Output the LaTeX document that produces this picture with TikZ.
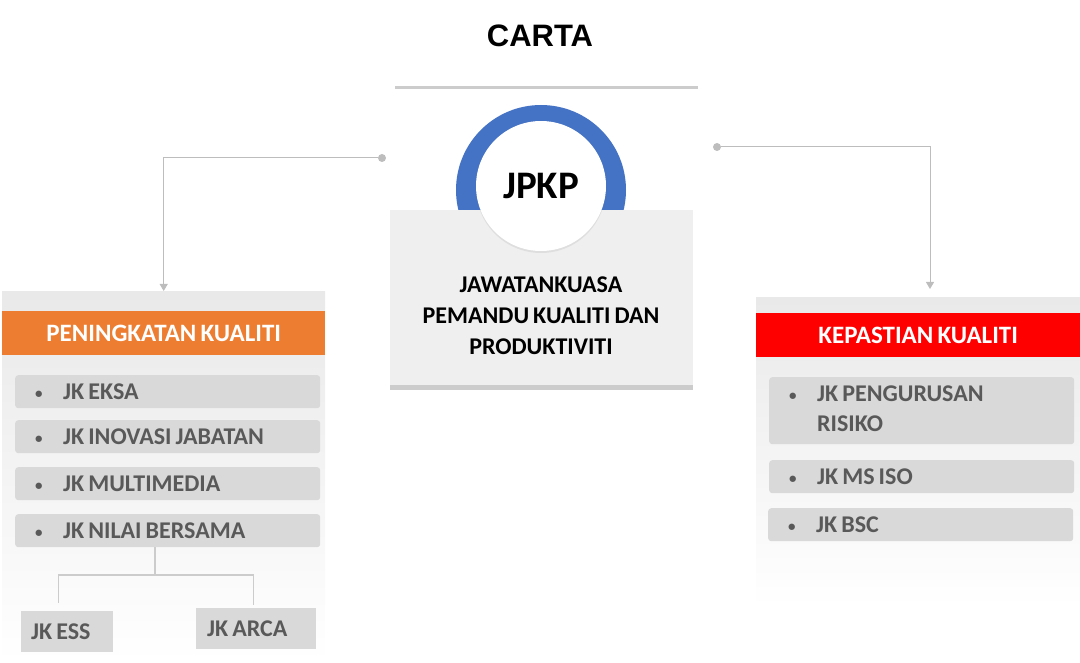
\documentclass[tikz,border=0pt]{standalone}
\usepackage{fontspec}
\setmainfont{Carlito}[WordSpace=0.75]
\newfontfamily\titlefont{Liberation Sans}
\usetikzlibrary{positioning,shadows,arrows.meta}
\definecolor{ringblue}{HTML}{4472C4}
\definecolor{hdorange}{HTML}{ED7D31}
\definecolor{hdred}{HTML}{FF0000}
\definecolor{itemgray}{HTML}{D9D9D9}
\definecolor{textgray}{HTML}{595959}
\definecolor{linegray}{HTML}{BDBDBD}
\definecolor{rulegray}{HTML}{CCCCCC}
\definecolor{panelgray}{HTML}{E9E9E9}
\definecolor{boxgray}{HTML}{EFEFEF}

\begin{document}
\begin{tikzpicture}[x=1pt,y=-1pt,font=\bfseries]
 \tikzstyle{panel}=[anchor=north west,inner sep=0pt,top color=panelgray,bottom color=white]
 \tikzstyle{hdr}=[anchor=north west,inner sep=0pt,text=white,font=\bfseries\fontsize{25}{30}\selectfont]
 \tikzstyle{item}=[anchor=north west,fill=itemgray,rounded corners=3pt,minimum height=33pt,inner xsep=19pt,inner ysep=0pt,text=textgray,font=\bfseries\fontsize{24}{30}\selectfont]
 \tikzstyle{sub}=[anchor=north west,fill=itemgray,inner ysep=0pt,text=textgray,font=\bfseries\fontsize{24}{30}\selectfont]
 \tikzstyle{dot}=[circle,fill=linegray,inner sep=0pt,minimum size=8pt]
 \tikzstyle{conn}=[draw=linegray,line width=1pt,-{Triangle[width=8pt,length=7pt]}]
 \tikzstyle{tree}=[draw=rulegray,line width=1.2pt]
 \newcommand{\bul}{\makebox[29pt][l]{\hspace{1pt}\fontsize{15}{15}\selectfont\raisebox{1pt}{\textbullet}}}
 \newcommand{\itm}[1]{\makebox[267pt][l]{\bul #1}}

\useasboundingbox (0,0) rectangle (1080,663);

% title
\node[font=\titlefont\bfseries\fontsize{31}{36}\selectfont] (title) at (540,36) {CARTA};
\draw[line width=3pt,rulegray] (395,88) -- (698,88);

% centre
\fill[ringblue] (541,190) circle (85pt);
\node[anchor=north west,fill=boxgray,minimum width=303pt,minimum height=175pt,inner sep=0pt] (cb) at (390,210) {};
\fill[rulegray] (cb.south west) rectangle ++(303,5);
\node[circle,fill=white,minimum size=130pt,inner sep=0pt,drop shadow={opacity=0.15,shadow xshift=0pt,shadow yshift=-2pt},font=\bfseries\fontsize{39}{44}\selectfont] (jpkp) at (541,186) {JPKP};
\node[align=center,font=\bfseries\fontsize{24}{31}\selectfont] (jname) at (541,316) {JAWATANKUASA\\PEMANDU KUALITI DAN\\PRODUKTIVITI};

% left side
\node[panel,minimum width=323pt,minimum height=372pt] (lp) at (2,291) {};
\node[hdr,fill=hdorange,minimum width=323pt,minimum height=44pt] (lh) at (2,311) {PENINGKATAN KUALITI};
\node[item] (l1) at (15,375) {\itm{JK EKSA}};
\node[item] (l2) at (15,420) {\itm{JK INOVASI JABATAN}};
\node[item] (l3) at (15,467) {\itm{JK MULTIMEDIA}};
\node[item] (l4) at (15,514) {\itm{JK NILAI BERSAMA}};
\node[sub,minimum height=41pt,inner xsep=10pt] (ess) at (21,611) {\makebox[72pt][l]{JK ESS}};
\node[sub,minimum height=41pt,inner xsep=11pt] (arca) at (196,608) {\makebox[98pt][l]{JK ARCA}};

\coordinate (t1) at (155,575);
\draw[tree] (t1 |- l4.south) -- (t1);
\draw[tree] (t1) -| ([xshift=-9pt,yshift=8pt]ess.north);
\draw[tree] (t1) -| ([xshift=-3pt,yshift=3pt]arca.north);

% right side
\node[panel,minimum width=324pt,minimum height=310pt] (rp) at (756,297) {};
\node[hdr,fill=hdred,minimum width=324pt,minimum height=44pt] (rh) at (756,313) {KEPASTIAN KUALITI};
\node[item,minimum height=67pt] (r1) at (769,377) {\raisebox{-3pt}{\itm{\begin{tabular}[t]{@{}l@{}}JK PENGURUSAN\\RISIKO\end{tabular}}}};
\node[item] (r2) at (769,460) {\itm{JK MS ISO}};
\node[item] (r3) at (768,508) {\itm{JK BSC}};

% connectors
\node[dot] (ld) at (382,158) {};
\node[dot] (rd) at (717,147) {};
\coordinate (ra) at (930,289);
\draw[conn] (ld) -| (lp.north);
\draw[conn] (rd) -| (ra);

\end{tikzpicture}
\end{document}
